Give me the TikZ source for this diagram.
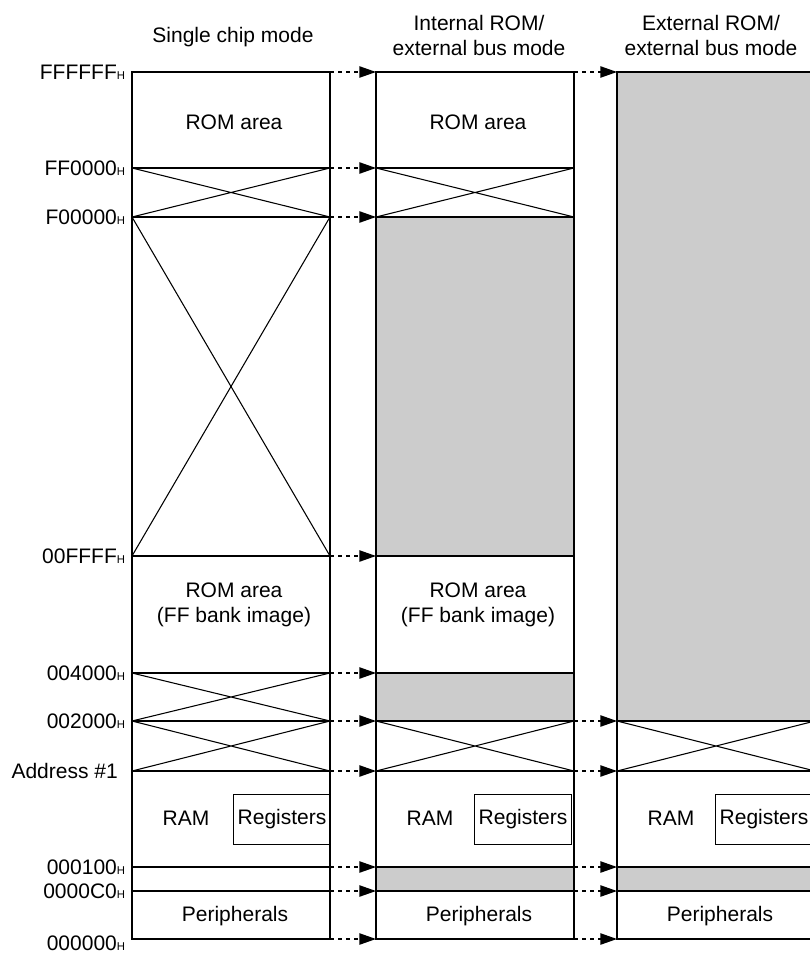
\documentclass[tikz,border=0pt]{standalone}
\usepackage{fontspec}
\setmainfont{Liberation Sans}
\usetikzlibrary{arrows.meta}
\definecolor{areagray}{HTML}{CCCCCC}
\newcommand{\hx}{{\fontsize{8.5}{8.5}\selectfont H}}

\begin{document}
\begin{tikzpicture}[x=0.75pt,y=-0.75pt,
    font=\fontsize{15.75}{18.75}\selectfont,
    colbox/.style={line width=1.9pt},
    sep/.style={line width=0.8pt},
    maparrow/.style={line width=1pt,dash pattern=on 3pt off 3pt,
      -{Triangle[length=12.5pt,width=8.5pt]}},
    addr/.style={anchor=east,inner sep=0pt},
    regbox/.style={draw,line width=0.8pt,anchor=north west,inner sep=0pt,
      minimum width=72.75pt,minimum height=37.5pt}]
  \useasboundingbox (0,0) rectangle (809,955);
  % column edges at each address row
  \foreach \c/\l/\r in {A/132/330,B/376/574,C/617/815}{
    \foreach \n/\y in {top/72,ff/168,f0/217,bk/556,r4/673,
        r2/721,a1/771,r1/867,rc/891,bot/939}{
      \coordinate (\c-\n-l) at (\l,\y);
      \coordinate (\c-\n-r) at (\r,\y);
    }
  }
  % external areas
  \fill[areagray] (B-f0-l) rectangle (B-bk-r);
  \fill[areagray] (B-r4-l) rectangle (B-r2-r);
  \fill[areagray] (B-r1-l) rectangle (B-rc-r);
  \fill[areagray] (C-top-l) rectangle (C-r2-r);
  \fill[areagray] (C-r1-l) rectangle (C-rc-r);
  % area borders
  \foreach \n in {ff,f0,bk,r4,r2,a1,r1,rc}{
    \draw[sep] (A-\n-l) -- (A-\n-r);
    \draw[sep] (B-\n-l) -- (B-\n-r);
  }
  \foreach \n in {r2,a1,r1,rc}
    \draw[sep] (C-\n-l) -- (C-\n-r);
  % unused areas
  \foreach \c/\u/\d in {A/ff/f0,A/f0/bk,A/r4/r2,A/r2/a1,
      B/ff/f0,B/r2/a1,C/r2/a1}{
    \draw[sep] (\c-\u-l) -- (\c-\d-r) (\c-\u-r) -- (\c-\d-l);
  }
  \foreach \c/\x in {A/233,B/474,C/715}
    \node[regbox] (\c-reg) at (\x,794) {Registers};
  \foreach \c in {A,B,C}
    \draw[colbox] (\c-top-l) rectangle (\c-bot-r);
  % mapping arrows
  \foreach \n in {top,ff,f0,bk,r4,r2,a1,r1,rc,bot}
    \draw[maparrow] (A-\n-r) -- (B-\n-l);
  \foreach \n in {top,r2,a1,r1,rc,bot}
    \draw[maparrow] (B-\n-r) -- (C-\n-l);
  % headings
  \node (hA) at (233,37) {Single chip mode};
  \node[align=center] (hB) at (479,35) {Internal ROM/\\external bus mode};
  \node[align=center] (hC) at (711,35) {External ROM/\\external bus mode};
  % area names
  \foreach \c/\x in {A/234,B/478}{
    \node (\c-rom) at (\x,122) {ROM area};
    \node[align=center] (\c-img) at (\x,605) {ROM area\\(FF bank image)};
  }
  \foreach \c/\x in {A/186,B/430,C/671}
    \node (\c-ram) at (\x,818) {RAM};
  \foreach \c/\x in {A/235,B/479,C/720}
    \node (\c-per) at (\x,916) {Peripherals};
  % addresses
  \foreach \n/\t in {top/FFFFFF,ff/FF0000,f0/F00000,bk/00FFFF,
      r4/004000,r2/002000,r1/000100,rc/0000C0}
    \node[addr] (lab-\n) at ([xshift=-5pt]A-\n-l) {\t\hx};
  \node[addr] (lab-a1) at ([xshift=-10.5pt]A-a1-l) {Address \#1};
  \node[addr] (lab-bot) at ([xshift=-5pt,yshift=-3pt]A-bot-l) {000000\hx};
\end{tikzpicture}
\end{document}
